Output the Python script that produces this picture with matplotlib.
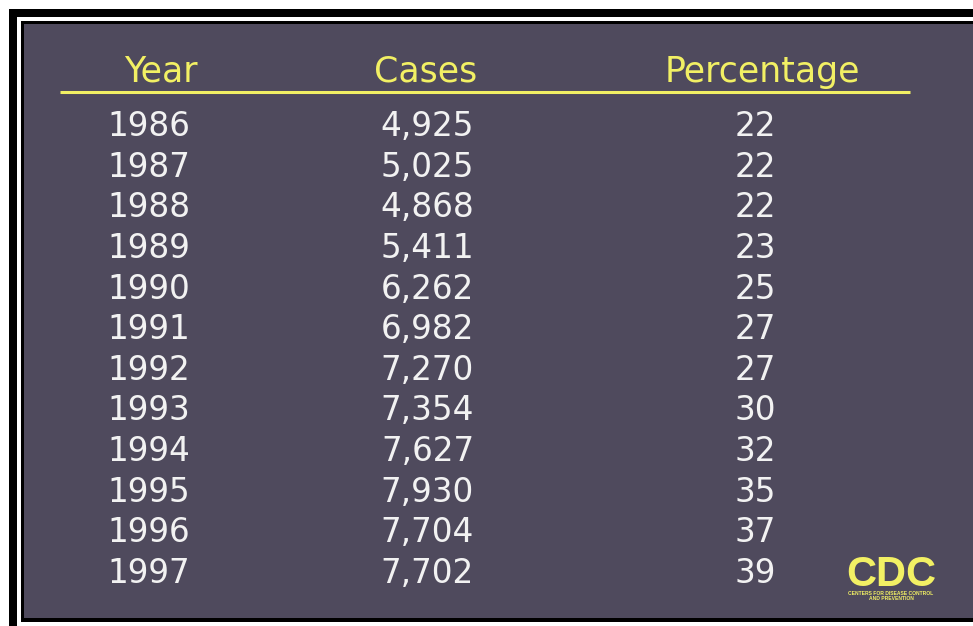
import matplotlib
matplotlib.use('Agg')
from matplotlib import pyplot as plt
from matplotlib.patches import Rectangle

plt.rcParams['font.family'] = ['DejaVu Sans']

# table data
headers = ['Year', 'Cases', 'Percentage']
years = ['1986', '1987', '1988', '1989', '1990', '1991',
         '1992', '1993', '1994', '1995', '1996', '1997']
cases = ['4,925', '5,025', '4,868', '5,411', '6,262', '6,982',
         '7,270', '7,354', '7,627', '7,930', '7,704', '7,702']
percentages = ['22', '22', '22', '23', '25', '27',
               '27', '30', '32', '35', '37', '39']

bg = '#4f4a5d'
yellow = '#f2f064'
white = '#f2f2f2'

W, H = 973, 626
fig = plt.figure(figsize=(W / 100, H / 100), dpi=100, facecolor='white')
ax = fig.add_axes([0, 0, 1, 1])
ax.set_xlim(0, W)
ax.set_ylim(H, 0)
ax.axis('off')

# frame: thick black bars top/left, thin black outline, purple panel
ax.add_patch(Rectangle((9, 9), W, 8, color='black', lw=0))
ax.add_patch(Rectangle((9, 9), 8, H, color='black', lw=0))
ax.add_patch(Rectangle((21, 21), W, 601, color='black', lw=0))
ax.add_patch(Rectangle((24, 24), W, 594, color=bg, lw=0))

# header
hx = [161, 426, 762]
for x, h in zip(hx, headers):
    ax.text(x, 82, h, color=yellow, fontsize=25, ha='center', va='baseline')
ax.plot([60, 910], [92, 92], color=yellow, lw=2.2, solid_capstyle='butt')

# rows
row0, step = 136, 40.64
for i in range(len(years)):
    y = row0 + i * step
    ax.text(107, y, years[i], color=white, fontsize=23.5, ha='left', va='baseline')
    ax.text(474, y, cases[i], color=white, fontsize=23.5, ha='right', va='baseline')
    ax.text(776, y, percentages[i], color=white, fontsize=23.5, ha='right', va='baseline')

# CDC logo
ax.text(891, 586, 'CDC', color=yellow, fontsize=30, fontweight='bold',
        family='Liberation Sans', ha='center', va='baseline')
ax.text(891, 600, 'CENTERS FOR DISEASE CONTROL\nAND PREVENTION', color=yellow,
        fontsize=3.6, fontweight='bold', family='Liberation Sans',
        ha='center', va='baseline', multialignment='center', linespacing=1.1)

fig.savefig('out.png', dpi=100, facecolor='white')
